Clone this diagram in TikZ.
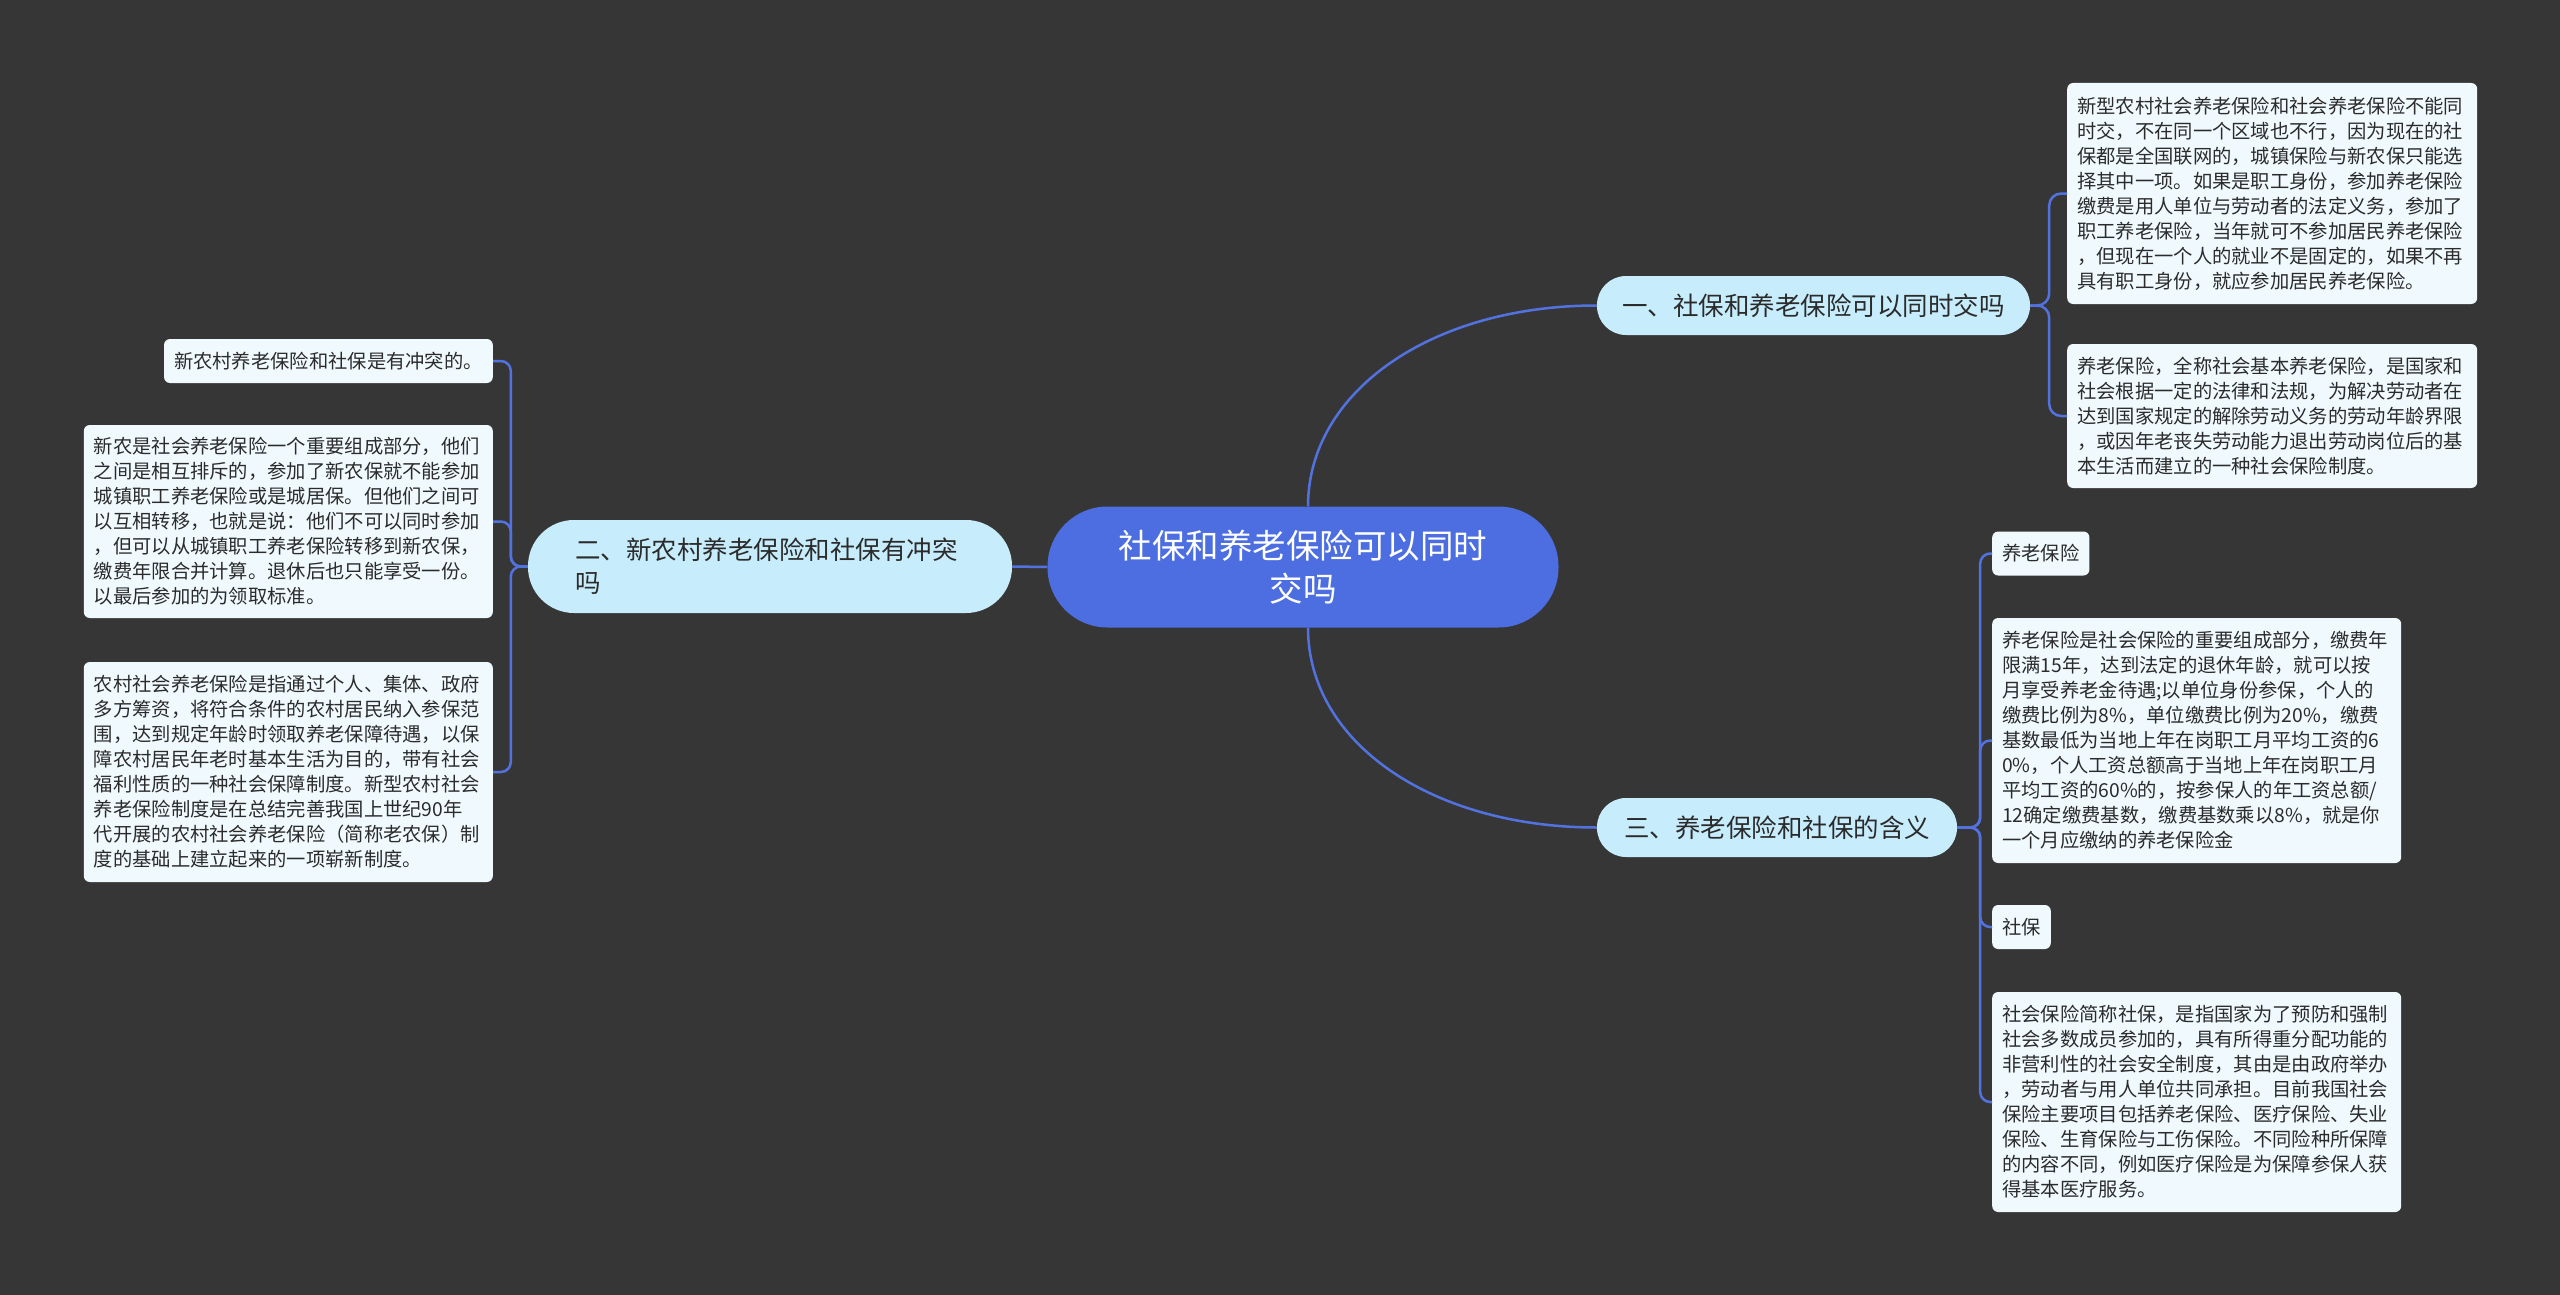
\documentclass[tikz,border=0pt]{standalone}
\usepackage{fontspec}
\setmainfont{Noto Sans CJK SC}
\usepackage{tikz}
\usetikzlibrary{calc, positioning}

\definecolor{bgcol}{HTML}{373636}
\definecolor{rootcol}{HTML}{4C6EE0}
\definecolor{branchcol}{HTML}{C7EDFC}
\definecolor{leafcol}{HTML}{F0FAFE}
\definecolor{linecol}{HTML}{5272E0}
\definecolor{textcol}{HTML}{2B2B2B}

\begin{document}
\begin{tikzpicture}[x=1pt, y=-1pt,
        rootnode/.style={fill=rootcol, text=white, rounded corners=60pt, minimum width=511pt, minimum height=121pt, text width=420pt, align=center, font=\fontsize{33.5}{43}\selectfont},
        branch/.style={fill=branchcol, text=textcol, rounded corners=29pt, minimum height=59pt, inner xsep=20pt, font=\fontsize{25.5}{33}\selectfont},
        leaf/.style={fill=leafcol, text=textcol, rounded corners=6pt, inner xsep=10pt, inner ysep=0pt, minimum height=44pt, align=left, font=\fontsize{19.3}{25}\selectfont},
        link/.style={draw=linecol, line width=2.5pt}]
        \fill[bgcol] (0,0) rectangle (2560,1295);
        \useasboundingbox (0,0) rectangle (2560,1295);

        \node[rootnode] (root) at (1303,567) {社保和养老保险可以同时\\交吗};

        \node[branch, minimum width=433pt] (b1) at (1813.5,305.5) {一、社保和养老保险可以同时交吗};
        \node[branch, minimum width=484pt, minimum height=93pt, rounded corners=46pt, inner xsep=47pt, text width=390pt, align=left] (b2) at (770,566.5) {二、新农村养老保险和社保有冲突\\吗};
        \node[branch, minimum width=360pt] (b3) at (1777,827.5) {三、养老保险和社保的含义};

        \node[leaf, anchor=west, text width=390pt, minimum height=221pt] (l1a) at (2067,193.5) {新型农村社会养老保险和社会养老保险不能同\\时交，不在同一个区域也不行，因为现在的社\\保都是全国联网的，城镇保险与新农保只能选\\择其中一项。如果是职工身份，参加养老保险\\缴费是用人单位与劳动者的法定义务，参加了\\职工养老保险，当年就可不参加居民养老保险\\，但现在一个人的就业不是固定的，如果不再\\具有职工身份，就应参加居民养老保险。};
        \node[leaf, anchor=west, text width=390pt, minimum height=144pt] (l1b) at (2067,416) {养老保险，全称社会基本养老保险，是国家和\\社会根据一定的法律和法规，为解决劳动者在\\达到国家规定的解除劳动义务的劳动年龄界限\\，或因年老丧失劳动能力退出劳动岗位后的基\\本生活而建立的一种社会保险制度。};

        \node[leaf, anchor=west] (l3a) at (1992,553.5) {养老保险};
        \node[leaf, anchor=west, text width=389pt, minimum height=245pt] (l3b) at (1992,740.5) {养老保险是社会保险的重要组成部分，缴费年\\限满15年，达到法定的退休年龄，就可以按\\月享受养老金待遇;以单位身份参保，个人的\\缴费比例为8\%，单位缴费比例为20\%，缴费\\基数最低为当地上年在岗职工月平均工资的6\\0\%，个人工资总额高于当地上年在岗职工月\\平均工资的60\%的，按参保人的年工资总额/\\12确定缴费基数，缴费基数乘以8\%，就是你\\一个月应缴纳的养老保险金};
        \node[leaf, anchor=west] (l3c) at (1992,927) {社保};
        \node[leaf, anchor=west, text width=389pt, minimum height=220pt] (l3d) at (1992,1102) {社会保险简称社保，是指国家为了预防和强制\\社会多数成员参加的，具有所得重分配功能的\\非营利性的社会安全制度，其由是由政府举办\\，劳动者与用人单位共同承担。目前我国社会\\保险主要项目包括养老保险、医疗保险、失业\\保险、生育保险与工伤保险。不同险种所保障\\的内容不同，例如医疗保险是为保障参保人获\\得基本医疗服务。};

        \node[leaf, anchor=east] (l2a) at (493,361) {新农村养老保险和社保是有冲突的。};
        \node[leaf, anchor=east, text width=389pt, minimum height=193pt] (l2b) at (493,521.5) {新农是社会养老保险一个重要组成部分，他们\\之间是相互排斥的，参加了新农保就不能参加\\城镇职工养老保险或是城居保。但他们之间可\\以互相转移，也就是说：他们不可以同时参加\\，但可以从城镇职工养老保险转移到新农保，\\缴费年限合并计算。退休后也只能享受一份。\\以最后参加的为领取标准。};
        \node[leaf, anchor=east, text width=389pt, minimum height=220pt] (l2c) at (493,772) {农村社会养老保险是指通过个人、集体、政府\\多方筹资，将符合条件的农村居民纳入参保范\\围，达到规定年龄时领取养老保障待遇，以保\\障农村居民年老时基本生活为目的，带有社会\\福利性质的一种社会保障制度。新型农村社会\\养老保险制度是在总结完善我国上世纪90年\\代开展的农村社会养老保险（简称老农保）制\\度的基础上建立起来的一项崭新制度。};

        \draw[link] ([xshift=5pt]root.north) .. controls +(0,-115) and +(-165,0) .. (b1.west);
        \draw[link] ([xshift=5pt]root.south) .. controls +(0,115) and +(-165,0) .. (b3.west);
        \draw[link] (root.west) -- (b2.east);

        \draw[link, rounded corners=12pt] (b1.east) -- ++(19,0) |- (l1a.west);
        \draw[link, rounded corners=12pt] (b1.east) -- ++(19,0) |- (l1b.west);

        \draw[link, rounded corners=10pt] (b3.east) -- ++(23,0) |- (l3a.west);
        \draw[link, rounded corners=10pt] (b3.east) -- ++(23,0) |- (l3b.west);
        \draw[link, rounded corners=10pt] (b3.east) -- ++(23,0) |- (l3c.west);
        \draw[link, rounded corners=10pt] (b3.east) -- ++(23,0) |- (l3d.west);

        \draw[link, rounded corners=10pt] (b2.west) -- ++(-17,0) |- (l2a.east);
        \draw[link, rounded corners=10pt] (b2.west) -- ++(-17,0) |- (l2b.east);
        \draw[link, rounded corners=10pt] (b2.west) -- ++(-17,0) |- (l2c.east);
\end{tikzpicture}
\end{document}
